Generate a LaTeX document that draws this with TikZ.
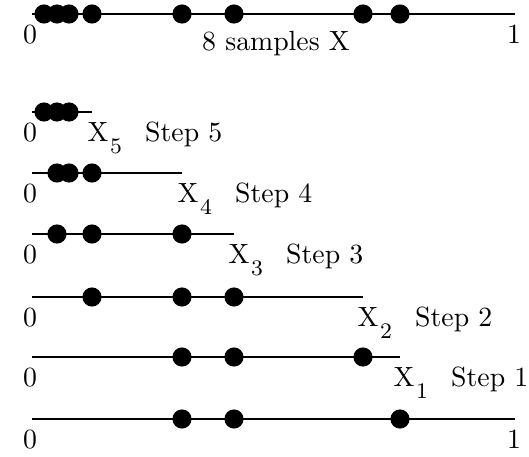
\documentclass[tikz,border=0pt]{standalone}
\usetikzlibrary{positioning}
\tikzset{
    axis/.style={line width=0.7pt},
    smp/.style={circle, fill=black, inner sep=0pt, minimum size=6.9pt},
    lbl/.style={inner sep=0pt}
}
\newcommand{\xsub}[1]{X\kern0.6pt\raisebox{-4.6pt}{\footnotesize #1}}

\begin{document}
\begin{tikzpicture}[x=36pt, y=36pt]
        \useasboundingbox (0,0) rectangle (5.29,4.56);
        % the 8 samples
        \coordinate (a0) at (0.32,4.42);
        \coordinate (b0) at (5.15,4.42);
        \draw[axis] (a0) -- (b0);
        \node[smp] (p1) at (0.44,4.42) {};
        \node[smp] (p2) at (0.57,4.42) {};
        \node[smp] (p3) at (0.69,4.42) {};
        \node[smp] (p4) at (0.92,4.42) {};
        \node[smp] (p5) at (1.82,4.42) {};
        \node[smp] (p6) at (2.34,4.42) {};
        \node[smp] (p7) at (3.63,4.42) {};
        \node[smp] (p8) at (4.00,4.42) {};
        \node[lbl, anchor=base] (z0) at (0.30,4.13) {0};
        \node[lbl, anchor=base] (o0) at (5.14,4.13) {1};
        \node[lbl, anchor=base] (title) at (2.76,4.06) {8 samples X};

        % step 5
        \coordinate (a5) at (0.32,3.44);
        \coordinate (b5) at (0.92,3.44);
        \draw[axis] (a5) -- (b5);
        \node[smp] (d5a) at (0.44,3.44) {};
        \node[smp] (d5b) at (0.57,3.44) {};
        \node[smp] (d5c) at (0.69,3.44) {};
        \node[lbl, anchor=base] (z5) at (0.30,3.15) {0};
        \node[lbl, anchor=base west] (x5) at (0.87,3.15) {\xsub{5}};
        \node[lbl, right=8pt of x5.base east, anchor=base west] (st5) {Step 5};

        % step 4
        \coordinate (a4) at (0.32,2.83);
        \coordinate (b4) at (1.82,2.83);
        \draw[axis] (a4) -- (b4);
        \node[smp] (d4a) at (0.57,2.83) {};
        \node[smp] (d4b) at (0.69,2.83) {};
        \node[smp] (d4c) at (0.92,2.83) {};
        \node[lbl, anchor=base] (z4) at (0.30,2.54) {0};
        \node[lbl, anchor=base west] (x4) at (1.77,2.54) {\xsub{4}};
        \node[lbl, right=8pt of x4.base east, anchor=base west] (st4) {Step 4};

        % step 3
        \coordinate (a3) at (0.32,2.22);
        \coordinate (b3) at (2.34,2.22);
        \draw[axis] (a3) -- (b3);
        \node[smp] (d3a) at (0.57,2.22) {};
        \node[smp] (d3b) at (0.92,2.22) {};
        \node[smp] (d3c) at (1.82,2.22) {};
        \node[lbl, anchor=base] (z3) at (0.30,1.93) {0};
        \node[lbl, anchor=base west] (x3) at (2.28,1.93) {\xsub{3}};
        \node[lbl, right=8pt of x3.base east, anchor=base west] (st3) {Step 3};

        % step 2
        \coordinate (a2) at (0.32,1.59);
        \coordinate (b2) at (3.63,1.59);
        \draw[axis] (a2) -- (b2);
        \node[smp] (d2a) at (0.92,1.59) {};
        \node[smp] (d2b) at (1.82,1.59) {};
        \node[smp] (d2c) at (2.34,1.59) {};
        \node[lbl, anchor=base] (z2) at (0.30,1.30) {0};
        \node[lbl, anchor=base west] (x2) at (3.57,1.30) {\xsub{2}};
        \node[lbl, right=8pt of x2.base east, anchor=base west] (st2) {Step 2};

        % step 1
        \coordinate (a1) at (0.32,0.99);
        \coordinate (b1) at (4.00,0.99);
        \draw[axis] (a1) -- (b1);
        \node[smp] (d1a) at (1.82,0.99) {};
        \node[smp] (d1b) at (2.34,0.99) {};
        \node[smp] (d1c) at (3.63,0.99) {};
        \node[lbl, anchor=base] (z1) at (0.30,0.70) {0};
        \node[lbl, anchor=base west] (x1) at (3.93,0.70) {\xsub{1}};
        \node[lbl, right=8pt of x1.base east, anchor=base west] (st1) {Step 1};

        % new samples
        \coordinate (an) at (0.32,0.37);
        \coordinate (bn) at (5.15,0.37);
        \draw[axis] (an) -- (bn);
        \node[smp] (dna) at (1.82,0.37) {};
        \node[smp] (dnb) at (2.34,0.37) {};
        \node[smp] (dnc) at (4.00,0.37) {};
        \node[lbl, anchor=base] (zn) at (0.30,0.08) {0};
        \node[lbl, anchor=base] (on) at (5.14,0.08) {1};
    \end{tikzpicture}
\end{document}
